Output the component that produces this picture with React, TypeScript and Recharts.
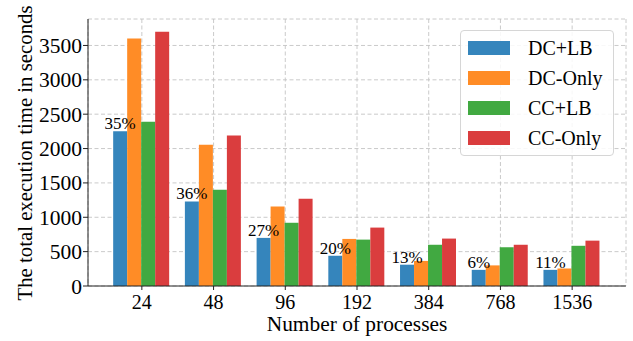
import React from "react";
import {
  BarChart,
  Bar,
  XAxis,
  YAxis,
  CartesianGrid,
  Legend,
  LabelList,
  Label,
} from "recharts";

const processes = ["24", "48", "96", "192", "384", "768", "1536"];
const dcLb = [2250, 1230, 700, 440, 310, 235, 235];
const dcOnly = [3600, 2055, 1155, 685, 365, 300, 255];
const ccLb = [2390, 1400, 920, 675, 600, 565, 585];
const ccOnly = [3700, 2190, 1270, 850, 690, 600, 660];
const reduction = ["35%", "36%", "27%", "20%", "13%", "6%", "11%"];
const yTicks = [0, 500, 1000, 1500, 2000, 2500, 3000, 3500];

const FONT = "Liberation Serif";

const SERIES = [
  { key: "dcLb", name: "DC+LB", color: "#3585bc" },
  { key: "dcOnly", name: "DC-Only", color: "#ff8c26" },
  { key: "ccLb", name: "CC+LB", color: "#41a941" },
  { key: "ccOnly", name: "CC-Only", color: "#da3d3e" },
];

const data = processes.map((p, i) => ({
  procs: p,
  dcLb: dcLb[i],
  dcOnly: dcOnly[i],
  ccLb: ccLb[i],
  ccOnly: ccOnly[i],
  pct: reduction[i],
}));

function XTick({ x, y, payload }: any) {
  return (
    <text x={x} y={y + 16} textAnchor="middle" fontFamily={FONT} fontSize={20} fill="#000">
      {payload.value}
    </text>
  );
}

function YTick({ x, y, payload }: any) {
  return (
    <text x={x} y={y + 7.5} textAnchor="end" fontFamily={FONT} fontSize={21.5} fill="#000">
      {payload.value}
    </text>
  );
}

function LegendBox() {
  return (
    <div
      style={{
        width: 154,
        height: 126,
        boxSizing: "border-box",
        border: "1px solid #d6d6d6",
        borderRadius: 4,
        background: "rgba(255,255,255,0.85)",
        paddingTop: 2,
        fontFamily: FONT,
        fontSize: 20,
        color: "#000",
      }}
    >
      {SERIES.map((s) => (
        <div key={s.key} style={{ height: 30, display: "flex", alignItems: "center" }}>
          <span
            style={{
              display: "inline-block",
              width: 42,
              height: 14,
              marginLeft: 7,
              marginRight: 18,
              background: s.color,
            }}
          />
          <span>{s.name}</span>
        </div>
      ))}
    </div>
  );
}

function YTitle() {
  return (
    <text
      x={32}
      y={153}
      transform="rotate(-90, 32, 153)"
      textAnchor="middle"
      fontFamily={FONT}
      fontSize={20.8}
      fill="#000"
    >
      The total execution time in seconds
    </text>
  );
}

export default function App() {
  return (
    <div style={{ position: "absolute", left: 0, top: 0, background: "#fff" }}>
      <BarChart
        width={633}
        height={341}
        data={data}
        margin={{ top: 19, right: 7, left: 0, bottom: 0 }}
        barCategoryGap="10%"
        barGap={0}
      >
        <CartesianGrid stroke="#c4c4c4" strokeDasharray="4 2.5" strokeWidth={0.9} />
        <XAxis
          dataKey="procs"
          height={55}
          padding={{ left: 18, right: 18 }}
          axisLine={{ stroke: "#222" }}
          tickLine={{ stroke: "#222" }}
          tickSize={4}
          tickMargin={3}
          tick={<XTick />}
        >
          <Label
            value="Number of processes"
            position="insideBottom"
            offset={10}
            style={{ fontFamily: FONT, fontSize: 21.4, fill: "#000" }}
          />
        </XAxis>
        <XAxis
          xAxisId="top"
          dataKey="procs"
          orientation="top"
          height={0}
          padding={{ left: 18, right: 18 }}
          tick={false}
          tickLine={false}
          axisLine={{ stroke: "#222" }}
        />
        <YAxis
          width={88}
          domain={[0, 3885]}
          ticks={yTicks}
          allowDataOverflow
          axisLine={{ stroke: "#222" }}
          tickLine={{ stroke: "#222" }}
          tickSize={5}
          tickMargin={1}
          tick={<YTick />}
          label={{ content: () => <YTitle /> }}
        />
        <YAxis
          yAxisId="right"
          orientation="right"
          width={0}
          domain={[0, 3885]}
          tick={false}
          tickLine={false}
          axisLine={{ stroke: "#222" }}
        />
        <Legend
          layout="vertical"
          align="center"
          verticalAlign="middle"
          wrapperStyle={{ left: 460, top: 30, width: 154, height: 126 }}
          content={() => <LegendBox />}
        />
        {SERIES.map((s) => (
          <Bar
            key={s.key}
            dataKey={s.key}
            name={s.name}
            fill={s.color}
            isAnimationActive={false}
          >
            {s.key === "dcLb" && (
              <LabelList
                dataKey="pct"
                position="top"
                offset={2}
                style={{ fontFamily: FONT, fontSize: 17, fill: "#000" }}
              />
            )}
          </Bar>
        ))}
      </BarChart>
    </div>
  );
}
